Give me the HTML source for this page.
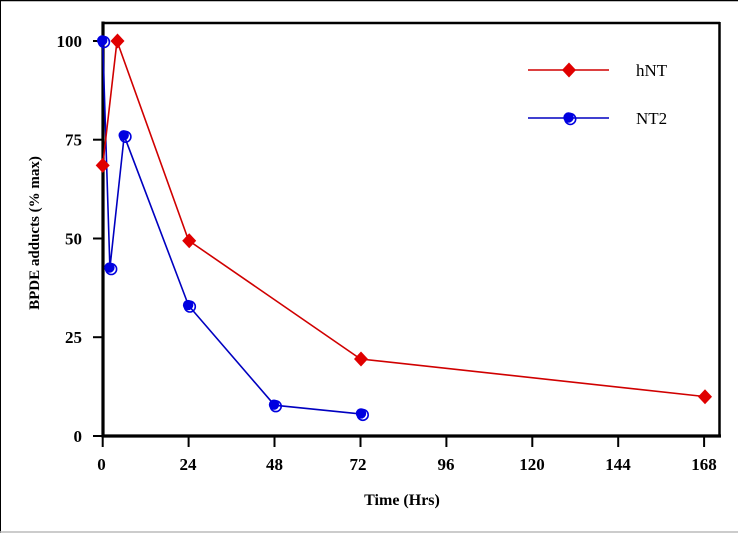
<!DOCTYPE html>
<html><head><meta charset="utf-8"><style>
html,body{margin:0;padding:0;background:#fff;}
svg{display:block;}
</style></head><body>
<svg width="738" height="533" viewBox="0 0 738 533" xmlns="http://www.w3.org/2000/svg">
<rect x="0" y="0" width="738" height="533" fill="#fff"/>
<line x1="0" y1="0.5" x2="738" y2="0.5" stroke="#000" stroke-width="1.5"/>
<line x1="0.5" y1="0" x2="0.5" y2="533" stroke="#000" stroke-width="1"/>
<line x1="0" y1="532" x2="738" y2="532" stroke="#bbb" stroke-width="1.5"/>
<!-- frame -->
<line x1="103" y1="23" x2="720" y2="23" stroke="#000" stroke-width="2.5"/>
<line x1="719.5" y1="22" x2="719.5" y2="437" stroke="#000" stroke-width="2.5"/>
<line x1="103" y1="21.5" x2="103" y2="437.5" stroke="#000" stroke-width="3.2"/>
<line x1="101.5" y1="436" x2="721" y2="436" stroke="#000" stroke-width="3.2"/>
<!-- y ticks -->
<g stroke="#000" stroke-width="2">
<line x1="93" y1="436" x2="103" y2="436"/>
<line x1="93" y1="337.2" x2="103" y2="337.2"/>
<line x1="93" y1="238.5" x2="103" y2="238.5"/>
<line x1="93" y1="139.7" x2="103" y2="139.7"/>
<line x1="93" y1="41" x2="103" y2="41"/>
</g>
<g font-family="'Liberation Serif', serif" font-weight="bold" font-size="17" text-anchor="end" fill="#000">
<text x="82" y="442">0</text>
<text x="82" y="343.2">25</text>
<text x="82" y="244.5">50</text>
<text x="82" y="145.7">75</text>
<text x="82" y="47">100</text>
</g>
<!-- x ticks -->
<g stroke="#000" stroke-width="2">
<line x1="102.7" y1="436" x2="102.7" y2="447"/>
<line x1="188.6" y1="436" x2="188.6" y2="447"/>
<line x1="274.5" y1="436" x2="274.5" y2="447"/>
<line x1="360.5" y1="436" x2="360.5" y2="447"/>
<line x1="446.4" y1="436" x2="446.4" y2="447"/>
<line x1="532.3" y1="436" x2="532.3" y2="447"/>
<line x1="618.2" y1="436" x2="618.2" y2="447"/>
<line x1="704.1" y1="436" x2="704.1" y2="447"/>
</g>
<g font-family="'Liberation Serif', serif" font-weight="bold" font-size="17" text-anchor="middle" fill="#000">
<text x="101.5" y="470">0</text>
<text x="188" y="470">24</text>
<text x="274.5" y="470">48</text>
<text x="358" y="470">72</text>
<text x="446" y="470">96</text>
<text x="532" y="470">120</text>
<text x="618" y="470">144</text>
<text x="704" y="470">168</text>
</g>
<text x="402" y="505" font-family="'Liberation Serif', serif" font-weight="bold" font-size="16" text-anchor="middle">Time (Hrs)</text>
<text transform="translate(39,233) rotate(-90)" font-family="'Liberation Serif', serif" font-weight="bold" font-size="15" text-anchor="middle">BPDE adducts (% max)</text>
<!-- NT2 series -->
<polyline points="102.7,41 109.9,268.1 124.2,135.8 188.6,305.6 274.5,405.2 360.5,413.9" fill="none" stroke="#0000c0" stroke-width="1.6"/>
<!-- hNT series -->
<polyline points="102.7,165.4 117,41 188.6,240.5 360.5,359 704.1,396.5" fill="none" stroke="#d00000" stroke-width="1.6"/>
<defs>
<g id="c"><circle cx="-0.5" cy="-0.5" r="5.2" fill="#0000e0"/><circle cx="1.3" cy="1" r="5.4" fill="none" stroke="#0000e0" stroke-width="1.6"/></g>
<polygon id="d" points="0,-7.5 7,0 0,7.5 -7,0" fill="#e00000"/>
</defs>
<use href="#c" x="102.7" y="41"/>
<use href="#c" x="109.9" y="268.1"/>
<use href="#c" x="124.2" y="135.8"/>
<use href="#c" x="188.6" y="305.6"/>
<use href="#c" x="274.5" y="405.2"/>
<use href="#c" x="361.5" y="413.9"/>
<use href="#d" x="102.7" y="165.4"/>
<use href="#d" x="117.5" y="41"/>
<use href="#d" x="189.2" y="240.8"/>
<use href="#d" x="361" y="359"/>
<use href="#d" x="705" y="396.8"/>
<!-- legend -->
<line x1="528" y1="70" x2="609" y2="70" stroke="#d00000" stroke-width="1.6"/>
<use href="#d" x="569" y="70"/>
<line x1="528" y1="118" x2="609" y2="118" stroke="#0000c0" stroke-width="1.6"/>
<use href="#c" x="569" y="118"/>
<g font-family="'Liberation Serif', serif" font-size="17" fill="#000">
<text x="636" y="76">hNT</text>
<text x="636" y="124">NT2</text>
</g>
</svg>
</body></html>
